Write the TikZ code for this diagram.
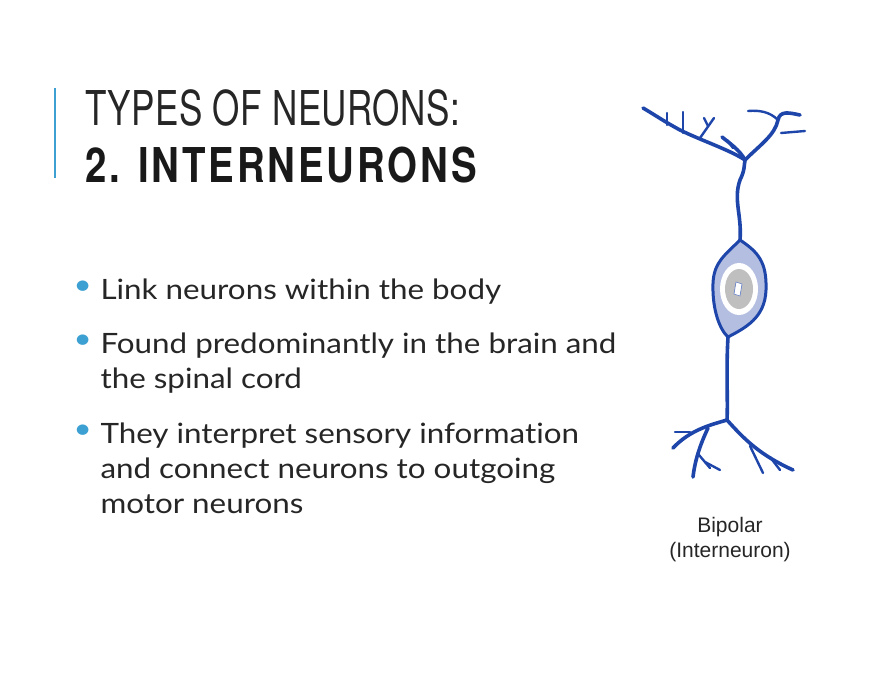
\documentclass[tikz,border=0pt]{standalone}
\usepackage{fontspec}
\setmainfont[FakeStretch=1.12,Ligatures=NoCommon,Contextuals=NoAlternate]{Lato}
\newfontfamily\titlefont[FakeStretch=0.73,LetterSpace=1]{TeX Gyre Heros}
\newfontfamily\titlebold[FakeStretch=0.8,LetterSpace=6]{TeX Gyre Heros}
\newfontfamily\labfont{Liberation Sans}
\definecolor{nblue}{RGB}{30,70,170}
\definecolor{soma}{RGB}{180,190,225}
\definecolor{accent}{RGB}{60,160,210}
\tikzset{dend/.style={nblue,line width=3.6pt,line cap=round,line join=round},
 tw/.style={nblue,line width=2.4pt,line cap=round},
 bul/.style={anchor=north west,align=left,font=\fontsize{28}{35}\selectfont,text=black!85}}
\begin{document}
\begin{tikzpicture}[x=1pt,y=-1pt]
\useasboundingbox (0,0) rectangle (880,680);
\fill[white] (0,0) rectangle (880,680);
\draw[accent,line width=1.2pt] (55,88) -- (55,178);
\node[anchor=base west,inner sep=0,font=\titlefont\fontsize{48}{48}\selectfont,text=black!85] (t1) at (85,125) {TYPES OF NEURONS:};
\node[anchor=base west,inner sep=0,font=\titlebold\bfseries\fontsize{48}{48}\selectfont,text=black!90] (t2) at (85,182) {2. INTERNEURONS};
\node[bul,text width=30pt] (b1d) at (70,277) {\textcolor{accent}{•}};
\node[bul] (b1) at (97,275) {Link neurons within the body};
\node[bul,text width=30pt] (b2d) at (70,331) {\textcolor{accent}{•}};
\node[bul] (b2) at (97,329) {Found predominantly in the brain and\\the spinal cord};
\node[bul,text width=30pt] (b3d) at (70,421) {\textcolor{accent}{•}};
\node[bul] (b3) at (97,419) {They interpret sensory information\\and connect neurons to outgoing\\motor neurons};
\node[font=\labfont\fontsize{21}{25}\selectfont,align=center,text=black!85] (lab) at (730,540) {Bipolar\\(Interneuron)};
% upper dendrites
\draw[dend] (740,240) .. controls (742,215) and (733,200) .. (740,180) .. controls (745,170) and (744,165) .. (745,160);
\draw[dend] (745,160) .. controls (730,150) and (700,140) .. (680,130) .. controls (665,122) and (655,115) .. (643,108);
\draw[tw] (667,125) -- (667,113);
\draw[tw] (683,133) -- (683,112);
\draw[tw] (700,138) -- (714,118);
\draw[tw] (708,126) -- (704,118);
\draw[dend] (745,160) .. controls (740,150) and (728,142) .. (722,137);
\draw[tw] (733,148) -- (727,140);
\draw[dend] (745,160) .. controls (760,145) and (775,135) .. (778,120) .. controls (780,110) and (790,113) .. (800,115);
\draw[tw] (778,120) .. controls (770,112) and (760,110) .. (748,111);
\draw[tw] (781,133) -- (805,131);
% soma
\draw[nblue,line width=3pt,fill=soma] (740,240) .. controls (725,255) and (714,262) .. (713,283) .. controls (712,310) and (720,330) .. (728,337) .. controls (745,328) and (765,318) .. (766,290) .. controls (767,262) and (758,252) .. (740,240) -- cycle;
\fill[white] (739,289) ellipse (19 and 26);
\fill[black!25] (739,289) ellipse (14 and 20);
\draw[nblue!70,fill=white,line width=0.6pt] (736,282) -- (742,284) -- (740,296) -- (734,294) -- cycle;
% axon and lower dendrites
\draw[dend] (728,337) .. controls (726,370) and (728,400) .. (727,420);
\draw[dend] (727,420) .. controls (710,425) and (690,430) .. (673,448);
\draw[tw] (690,432) -- (675,432);
\draw[dend] (708,428) .. controls (700,445) and (695,460) .. (693,477);
\draw[tw] (699,455) -- (710,468);
\draw[tw] (705,462) -- (720,470);
\draw[dend] (727,420) .. controls (745,440) and (760,455) .. (793,470);
\draw[tw] (750,446) -- (763,473);
\draw[tw] (770,457) -- (780,470);
\end{tikzpicture}
\end{document}
